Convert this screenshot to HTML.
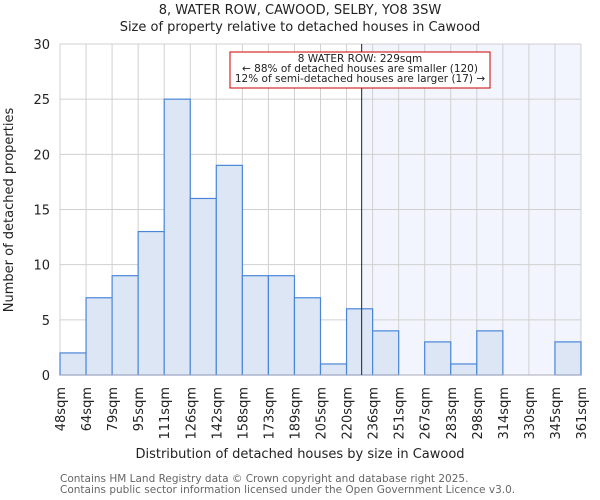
<!DOCTYPE html>
<html><head><meta charset="utf-8"><style>
body{margin:0;background:#fff;}
svg{display:block;font-family:"DejaVu Sans","Liberation Sans",sans-serif;}
</style></head><body>
<svg width="600" height="500" viewBox="0 0 600 500">
<g id="grid"></g>
<g id="bars"></g>
<g id="axes"></g>
<text x="300" y="14" text-anchor="middle" font-size="13" fill="#222">8, WATER ROW, CAWOOD, SELBY, YO8 3SW</text>
<text x="300" y="31" text-anchor="middle" font-size="13" fill="#222">Size of property relative to detached houses in Cawood</text>
<text x="300" y="458" text-anchor="middle" font-size="13" fill="#222">Distribution of detached houses by size in Cawood</text>
<text transform="translate(13,210) rotate(-90)" text-anchor="middle" font-size="13" fill="#222">Number of detached properties</text>
<text x="60" y="482" font-size="10.5" fill="#666">Contains HM Land Registry data © Crown copyright and database right 2025.</text>
<text x="60" y="493" font-size="10.5" fill="#666">Contains public sector information licensed under the Open Government Licence v3.0.</text>
</svg>
<script>
const categories=["48sqm","64sqm","79sqm","95sqm","111sqm","126sqm","142sqm","158sqm","173sqm","189sqm","205sqm","220sqm","236sqm","251sqm","267sqm","283sqm","298sqm","314sqm","330sqm","345sqm","361sqm"];
const counts=[2,7,9,13,25,16,19,9,9,7,1,6,4,0,3,1,4,0,0,3];
const yTicks=[0,5,10,15,20,25,30];
const markerBin=11.58;
const NS="http://www.w3.org/2000/svg";
const X0=60,X1=581,Y0=375,Y1=44,YMAX=30;
const nb=counts.length;
const xs=i=>X0+(X1-X0)*i/nb;
const ys=v=>Y0-(Y0-Y1)*v/YMAX;
function mk(t,a,p){const e=document.createElementNS(NS,t);for(const k in a)e.setAttribute(k,a[k]);p.appendChild(e);return e;}
const grid=document.getElementById('grid'),bars=document.getElementById('bars'),axes=document.getElementById('axes');
const mx=xs(markerBin);
const sh=mk('rect',{x:mx,y:Y1,width:X1-mx,height:Y0-Y1,fill:'#f2f5fd'},grid);


for(let i=0;i<=nb;i++){const l=mk('line',{x1:xs(i),x2:xs(i),y1:Y1,y2:Y0,stroke:'#d0d0d0','stroke-width':1},grid);

}
yTicks.forEach(v=>{const l=mk('line',{x1:X0,x2:X1,y1:ys(v),y2:ys(v),stroke:'#d0d0d0','stroke-width':1},grid);


const t=mk('text',{x:X0-10,y:ys(v)+5,'text-anchor':'end','font-size':13,fill:'#222'},axes);t.textContent=v;

});
counts.forEach((c,i)=>{if(c<=0)return;const r=mk('rect',{x:xs(i),y:ys(c),width:xs(i+1)-xs(i),height:Y0-ys(c),fill:'#dde6f5',stroke:'#4a86d8','stroke-width':1.2},bars);

});
categories.forEach((c,i)=>{const t=mk('text',{transform:`translate(${xs(i)+5},387) rotate(-90)`,'text-anchor':'end','font-size':13,fill:'#222'},axes);t.textContent=c;

});
const ax=mk('line',{x1:X0,x2:X1,y1:Y0,y2:Y0,stroke:'#aab','stroke-width':1},axes);


const ml=mk('line',{x1:mx,x2:mx,y1:Y1,y2:Y0,stroke:'#222','stroke-width':1},axes);


const box=mk('rect',{x:230,y:52,width:260,height:36,fill:'#fff',stroke:'#c00','stroke-width':1},axes);


["8 WATER ROW: 229sqm","← 88% of detached houses are smaller (120)","12% of semi-detached houses are larger (17) →"].forEach((s,k)=>{const t=mk('text',{x:360,y:62+k*10,'text-anchor':'middle','font-size':10.5,fill:'#222'},axes);t.textContent=s;

});
</script>
</body></html>
